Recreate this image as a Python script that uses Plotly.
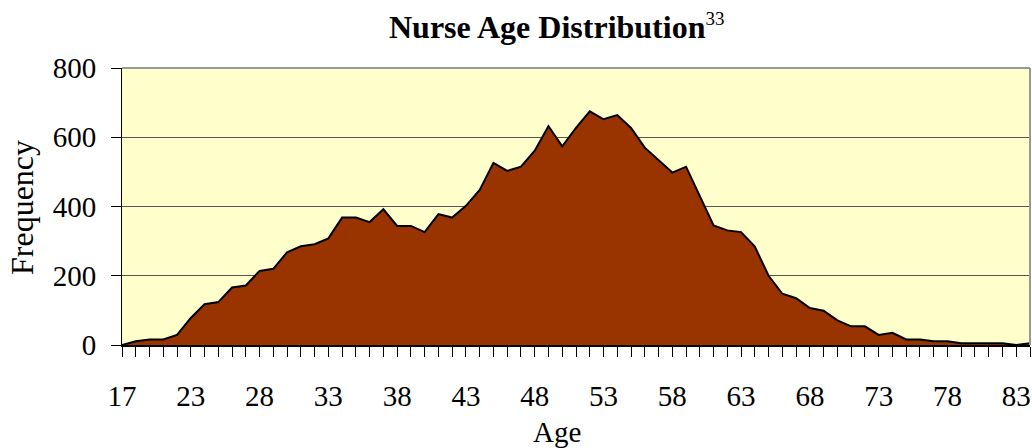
import plotly.graph_objects as go

ages = ["17", "19", "20", "21", "22", "23", "24", "25", "26", "27", "28", "29", "30", "31", "32",
        "33", "34", "35", "36", "37", "38", "39", "40", "41", "42", "43", "44", "45", "46", "47",
        "48", "49", "50", "51", "52", "53", "54", "55", "56", "57", "58", "59", "60", "61", "62",
        "63", "64", "65", "66", "67", "68", "69", "70", "71", "72", "73", "74", "75", "76", "77",
        "78", "79", "80", "81", "82", "83", "84"]
frequency = [0, 11, 16, 16, 29, 78, 118, 124, 166, 172, 214, 220, 268, 285, 291,
             308, 368, 368, 355, 392, 344, 344, 326, 378, 368, 402, 448, 526, 503, 515,
             561, 632, 574, 627, 675, 652, 664, 627, 570, 534, 498, 515, 428, 345, 331,
             326, 284, 200, 148, 135, 107, 99, 71, 54, 54, 29, 35, 16, 16, 11,
             11, 5, 5, 5, 5, 0, 5]
labeled_ages = ["17", "23", "28", "33", "38", "43", "48", "53", "58", "63", "68", "73", "78", "83"]
y_ticks = [0, 200, 400, 600, 800]

FONT = "Liberation Serif, Times New Roman, serif"

W, H = 1032, 448
L, R, T, B = 122, 2, 68, 103
pw = W - L - R
ph = H - T - B


def px(x_screen):
    return (x_screen - L) / pw


def py(y_screen):
    return (H - B - y_screen) / ph


fig = go.Figure()
fig.add_trace(go.Scatter(
    x=ages, y=frequency, mode="lines", fill="tozeroy",
    fillcolor="#993300", line=dict(color="black", width=2),
    hoverinfo="x+y", showlegend=False,
))

fig.update_layout(
    width=W, height=H,
    margin=dict(l=L, r=R, t=T, b=B),
    paper_bgcolor="white",
    plot_bgcolor="#FFFFCC",
    font=dict(family=FONT, size=29, color="black"),
    xaxis=dict(
        type="category", categoryorder="array", categoryarray=ages,
        range=[0, len(ages) - 1],
        tickmode="array", tickvals=ages,
        ticktext=[a if a in labeled_ages else "" for a in ages],
        ticks="outside", ticklen=10, tickwidth=1, tickcolor="black",
        showline=True, linecolor="black", linewidth=2,
        showgrid=False, zeroline=False,
        ticklabelstandoff=14,
        tickfont=dict(family=FONT, size=29),
    ),
    yaxis=dict(
        range=[0, 800], tickmode="array", tickvals=y_ticks,
        ticks="outside", ticklen=10, tickwidth=1, tickcolor="black",
        showline=True, linecolor="black", linewidth=1,
        showgrid=True, gridcolor="#555555", gridwidth=1,
        zeroline=False,
        ticklabelstandoff=9,
        tickfont=dict(family=FONT, size=29),
    ),
    shapes=[
        dict(type="line", xref="paper", yref="paper", x0=0, x1=1, y0=1, y1=1,
             line=dict(color="#999999", width=2)),
        dict(type="line", xref="paper", yref="paper", x0=1, x1=1, y0=0, y1=1,
             line=dict(color="#999999", width=2)),
    ],
    annotations=[
        dict(text="<b>Nurse Age Distribution</b><sup><span style='font-size:19px'>33</span></sup>",
             xref="paper", yref="paper",
             x=px(556), y=py(27), xanchor="center", yanchor="middle", showarrow=False,
             font=dict(family=FONT, size=32)),
        dict(text="Age", xref="paper", yref="paper",
             x=px(557), y=py(432), xanchor="center", yanchor="middle", showarrow=False,
             font=dict(family=FONT, size=29)),
        dict(text="Frequency", xref="paper", yref="paper", textangle=-90,
             x=px(22), y=py(208), xanchor="center", yanchor="middle", showarrow=False,
             font=dict(family=FONT, size=32)),
    ],
)

fig.write_html(
    "out.html",
    config={"displayModeBar": False},
    post_script="document.body.style.margin='0';document.body.style.overflow='hidden';",
)
